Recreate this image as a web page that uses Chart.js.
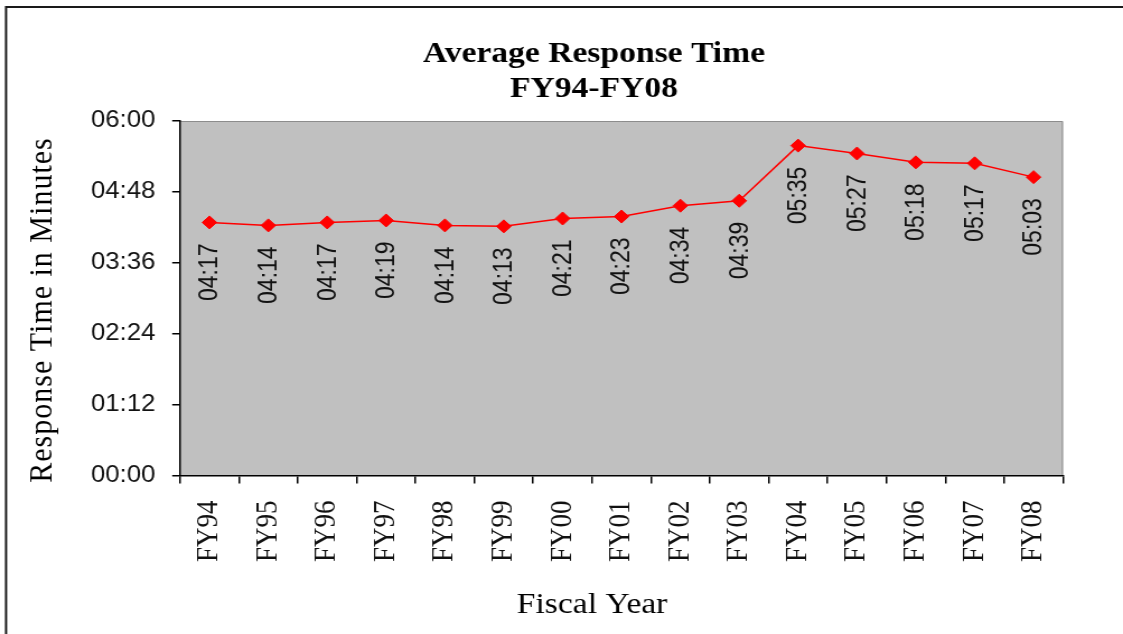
<!DOCTYPE html>
<html>
<head>
<meta charset="utf-8">
<title>Average Response Time FY94-FY08</title>
<script src="https://cdn.jsdelivr.net/npm/chart.js@4.4.1/dist/chart.umd.min.js"></script>
<style>
  html, body { margin: 0; padding: 0; background: #fff; overflow: hidden; }
  /* the chart is laid out on a narrower canvas and widened to the page */
  #wrap { width: 1003px; height: 634px; transform: scaleX(1.11964); transform-origin: 0 0; }
  canvas { display: block; }
</style>
</head>
<body>
<div id="wrap"><canvas id="chart" width="1003" height="634"></canvas></div>
<script>
// Fiscal years on the x axis
const fiscalYears = ['FY94', 'FY95', 'FY96', 'FY97', 'FY98', 'FY99', 'FY00', 'FY01',
                     'FY02', 'FY03', 'FY04', 'FY05', 'FY06', 'FY07', 'FY08'];
// Average response time per year, in seconds (04:17 -> 257)
const responseSeconds = [257, 254, 257, 259, 254, 253, 261, 263, 274, 279, 335, 327, 318, 317, 303];
// Value axis: 00:00 to 06:00 in steps of 01:12
const axisMinSeconds = 0;
const axisMaxSeconds = 360;
const axisStepSeconds = 72;

const titleLines = ['Average Response Time', 'FY94-FY08'];
const yAxisTitle = 'Response Time in Minutes';
const xAxisTitle = 'Fiscal Year';

function mmss(sec) {
  const m = Math.floor(sec / 60);
  const s = Math.round(sec - m * 60);
  return String(m).padStart(2, '0') + ':' + String(s).padStart(2, '0');
}

const SERIF = '"Liberation Serif", "Times New Roman", serif';
const SANS = '"Liberation Sans", Arial, sans-serif';

// Grey plot background, thin grey edge on top/right, and the outer frame
const backdrop = {
  id: 'backdrop',
  beforeDraw(chart) {
    const { ctx, chartArea: a, width, height } = chart;
    ctx.save();
    ctx.fillStyle = '#c0c0c0';
    ctx.fillRect(a.left, a.top, a.right - a.left, a.bottom - a.top);
    ctx.strokeStyle = '#8c8c8c';
    ctx.lineWidth = 1;
    ctx.beginPath();
    ctx.moveTo(a.left, a.top + 0.5);
    ctx.lineTo(a.right - 0.5, a.top + 0.5);
    ctx.lineTo(a.right - 0.5, a.bottom);
    ctx.stroke();
    ctx.strokeStyle = '#1a1a1a';
    ctx.lineWidth = 2;
    ctx.beginPath();
    ctx.moveTo(5.4, height);
    ctx.lineTo(5.4, 7);
    ctx.lineTo(width, 7);
    ctx.stroke();
    ctx.restore();
  }
};

// Rotated value labels under each marker
const valueLabels = {
  id: 'valueLabels',
  afterDatasetsDraw(chart) {
    const { ctx } = chart;
    const meta = chart.getDatasetMeta(0);
    const data = chart.data.datasets[0].data;
    ctx.save();
    ctx.fillStyle = '#111';
    ctx.font = '23px ' + SANS;
    ctx.textAlign = 'right';
    ctx.textBaseline = 'middle';
    meta.data.forEach((pt, i) => {
      ctx.save();
      ctx.translate(pt.x + 1, pt.y + 21);
      ctx.rotate(-Math.PI / 2);
      ctx.fillText(mmss(data[i]), 0, 0);
      ctx.restore();
    });
    ctx.restore();
  }
};

// Chart title and axis titles
const titles = {
  id: 'titles',
  afterDraw(chart) {
    const { ctx } = chart;
    ctx.save();
    ctx.fillStyle = '#000';
    ctx.textAlign = 'center';
    ctx.textBaseline = 'alphabetic';
    ctx.font = 'bold 30px ' + SERIF;
    ctx.fillText(titleLines[0], 530.5, 62);
    ctx.fillText(titleLines[1], 530.5, 97);

    ctx.font = '30px ' + SERIF;
    ctx.fillText(xAxisTitle, 528.8, 613);

    ctx.save();
    ctx.translate(45.5, 310);
    ctx.rotate(-Math.PI / 2);
    ctx.letterSpacing = '1px';
    ctx.fillText(yAxisTitle, 0, 0);
    ctx.restore();
    ctx.restore();
  }
};

new Chart(document.getElementById('chart'), {
  type: 'line',
  data: {
    labels: fiscalYears,
    datasets: [{
      data: responseSeconds,
      borderColor: '#ff0000',
      borderWidth: 1.5,
      tension: 0,
      pointStyle: 'rectRot',
      pointRadius: 6.5,
      pointBackgroundColor: '#ff0000',
      pointBorderColor: '#ff0000',
      pointBorderWidth: 1
    }]
  },
  options: {
    responsive: false,
    devicePixelRatio: 1,
    animation: false,
    layout: { padding: { top: 121, right: 53.6, left: 0, bottom: 0 } },
    plugins: {
      legend: { display: false },
      title: { display: false },
      tooltip: { enabled: false }
    },
    scales: {
      x: {
        type: 'category',
        offset: true,
        afterFit(scale) { scale.height = 158.5; },
        grid: { offset: true, drawOnChartArea: false, drawTicks: true, tickLength: 8, color: '#000', lineWidth: 1.5 },
        border: { color: '#000', width: 1.5 },
        ticks: {
          autoSkip: false,
          minRotation: 90,
          maxRotation: 90,
          padding: 17,
          color: '#111',
          font: { family: SERIF, size: 27 }
        }
      },
      y: {
        min: axisMinSeconds,
        max: axisMaxSeconds,
        afterFit(scale) { scale.width = 160.8; },
        grid: { drawOnChartArea: false, drawTicks: true, tickLength: 7, color: '#000', lineWidth: 1.5 },
        border: { color: '#000', width: 1.5 },
        ticks: {
          stepSize: axisStepSeconds,
          padding: 15,
          color: '#111',
          font: { family: SANS, size: 23 },
          callback: (v) => mmss(v)
        }
      }
    }
  },
  plugins: [backdrop, valueLabels, titles]
});
</script>
</body>
</html>
